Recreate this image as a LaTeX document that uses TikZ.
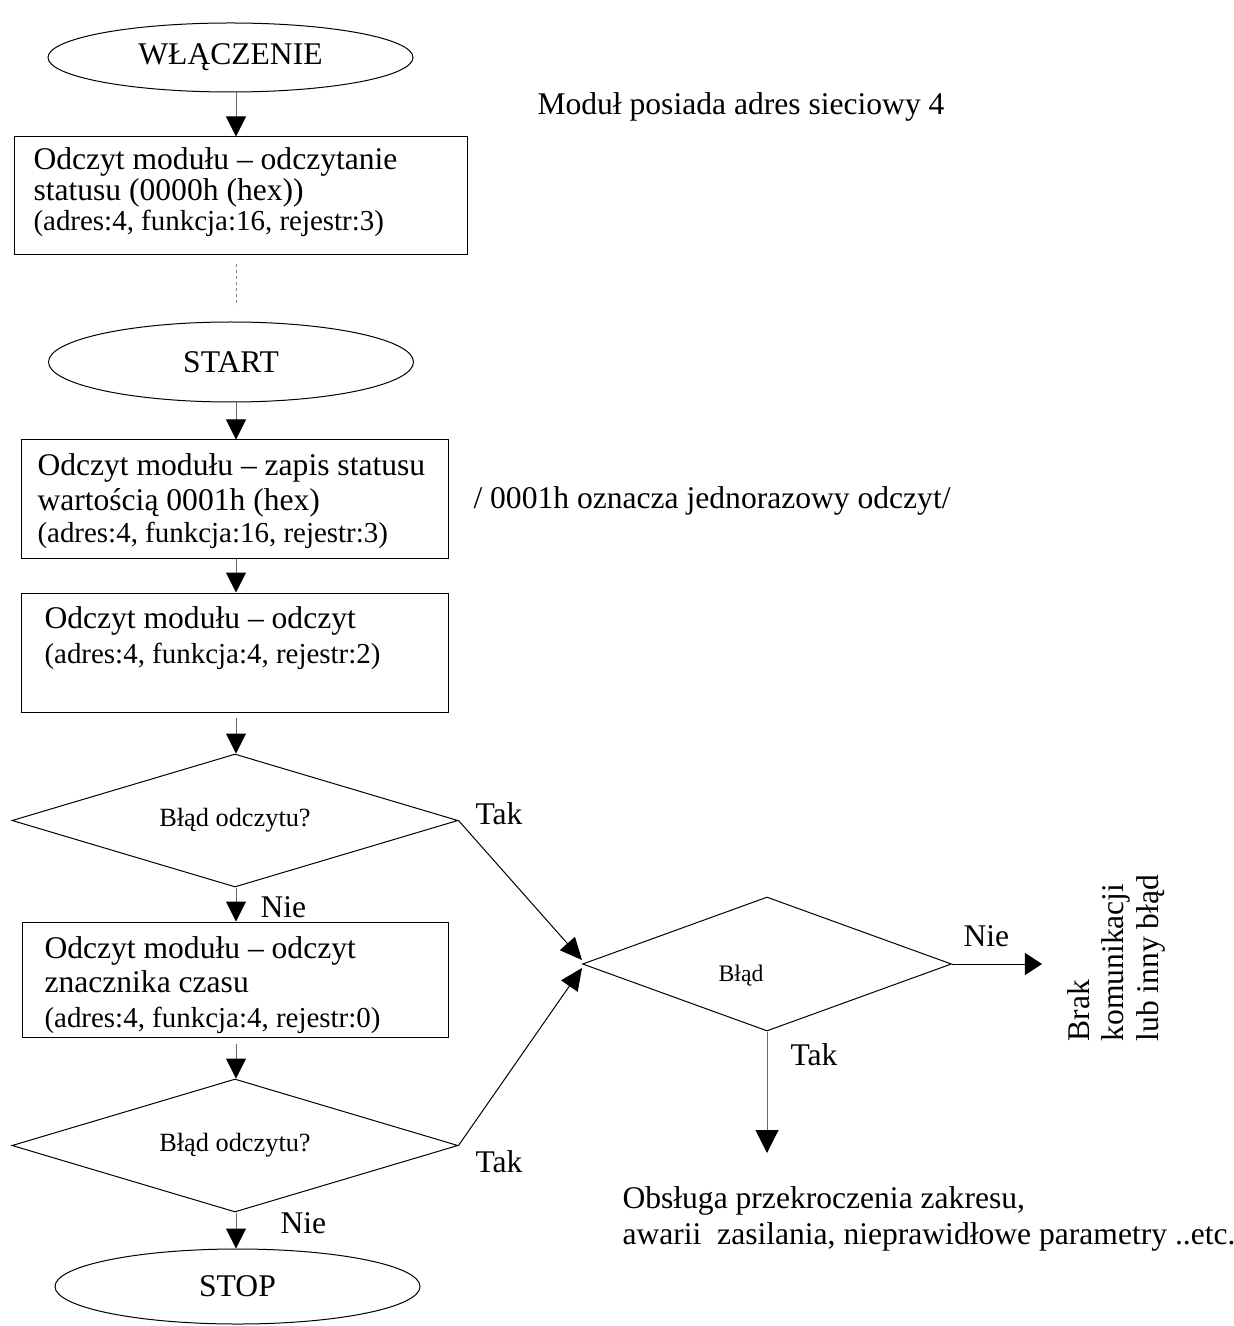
\documentclass[tikz,border=0pt]{standalone}
\usepackage{fontspec}
\setmainfont{Liberation Serif}
\usetikzlibrary{shapes.geometric, arrows.meta}
\newdimen\pixel
\pixel=0.38pt
\newcommand{\duzy}{\fontsize{12pt}{13.1pt}\selectfont}
\newcommand{\sredni}{\fontsize{11pt}{13.1pt}\selectfont}
\newcommand{\maly}{\fontsize{10pt}{12pt}\selectfont}
\newcommand{\malutki}{\fontsize{9pt}{11pt}\selectfont}

\begin{document}
\begin{tikzpicture}[x=\pixel, y=-\pixel,
        linia/.style={line width=1\pixel},
        blok/.style={draw, linia, rectangle, inner sep=0},
        owal/.style={draw, linia, ellipse, inner sep=0, minimum width=365\pixel, font=\duzy},
        romb/.style={draw, linia, diamond, inner sep=0, aspect=3.4, font=\maly},
        opis/.style={anchor=base west, inner sep=0, align=left, font=\duzy},
        etykieta/.style={anchor=base west, inner sep=0, font=\duzy},
        strz/.style={draw=black!60, linia, -{Triangle[width=7.6pt, length=7.6pt, color=black]}},
        skos/.style={draw=black, linia, -{Triangle[width=7.6pt, length=8.4pt]}},
        kreski/.style={draw=black!50, linia, dash pattern=on 3\pixel off 3\pixel},
    ]
    \useasboundingbox (0,0) rectangle (1234,1326);
    \coordinate (os) at (236,0);

    % glowna sciezka (opisy wieloliniowe zaczepione w ostatniej linii)
    \node[owal, minimum height=69\pixel] (wlacz) at (230.5,57.5) {WŁĄCZENIE};
    \node[blok, minimum width=453\pixel, minimum height=118\pixel] (odczyt1) at (240.5,196) {};
    \node[opis] (odczyt1 opis) at (33,231) {Odczyt modułu -- odczytanie\\[-3.5\pixel]statusu (0000h (hex))\\[-3.5\pixel]{\sredni (adres:4, funkcja:16, rejestr:3)}};

    \node[owal, minimum height=80\pixel] (start) at (231,362) {START};
    \node[blok, minimum width=427\pixel, minimum height=118\pixel] (odczyt2) at (234.5,499) {};
    \node[opis] (odczyt2 opis) at (37,543) {Odczyt modułu -- zapis statusu\\wartością 0001h (hex)\\[-1.5\pixel]{\sredni (adres:4, funkcja:16, rejestr:3)}};
    \node[blok, minimum width=427\pixel, minimum height=119\pixel] (odczyt3) at (234.5,652.5) {};
    \node[opis] (odczyt3 opis) at (44,663) {Odczyt modułu -- odczyt\\{\sredni (adres:4, funkcja:4, rejestr:2)}};

    \node[romb, minimum width=446\pixel, minimum height=133\pixel] (blad1) at (235,820.5) {Błąd odczytu?};
    \node[blok, minimum width=426\pixel, minimum height=115\pixel] (odczyt4) at (235,979.5) {};
    \node[opis] (odczyt4 opis) at (44,1027) {Odczyt modułu -- odczyt\\znacznika czasu\\{\sredni (adres:4, funkcja:4, rejestr:0)}};
    \node[romb, minimum width=446\pixel, minimum height=133\pixel] (blad2) at (235,1145.5) {Błąd odczytu?};
    \node[owal, minimum height=75\pixel] (stop) at (237.5,1286.5) {STOP};

    % obsluga bledu
    \node[romb, minimum width=369\pixel, minimum height=134\pixel] (blad) at (767,964) {};
    \node[anchor=base, inner sep=0, font=\malutki] (blad opis) at (741,981) {Błąd};
    \coordinate (brak) at (1042,964);
    \coordinate (obsluga) at (767,1153);
    \node[opis, rotate=90] (brak opis) at (1158,1042) {Brak\\komunikacji\\lub inny błąd};
    \node[opis] (obsluga opis) at (622,1244) {Obsługa przekroczenia zakresu,\\[1.5\pixel]awarii~ zasilania, nieprawidłowe parametry ..etc.};

    % etykiety
    \node[etykieta] (nie1) at (260,917) {Nie};
    \node[etykieta] (nie2) at (280,1233) {Nie};
    \node[etykieta] (tak1) at (475,824) {Tak};
    \node[etykieta] (tak2) at (475,1172) {Tak};
    \node[etykieta] (nie3) at (963,946) {Nie};
    \node[etykieta] (tak3) at (790,1065) {Tak};
    \node[etykieta] (adres) at (537,115) {Moduł posiada adres sieciowy 4};
    \node[etykieta] (uwaga) at (473,508) {/ 0001h oznacza jednorazowy odczyt/};

    % strzalki
    \draw[strz] (wlacz.south -| os) -- (odczyt1.north -| os);
    \draw[kreski, shorten <=9\pixel, shorten >=15\pixel] (odczyt1.south -| os) -- (start.north -| os);
    \draw[strz] (start.south -| os) -- (odczyt2.north -| os);
    \draw[strz] (odczyt2.south -| os) -- (odczyt3.north -| os);
    \draw[strz, shorten <=5\pixel] (odczyt3.south -| os) -- (blad1.north -| os);
    \draw[strz] (blad1.south -| os) -- (odczyt4.north -| os);
    \draw[strz, shorten <=6\pixel] (odczyt4.south -| os) -- (blad2.north -| os);
    \draw[strz] (blad2.south -| os) -- (stop.north -| os);
    \draw[skos] (blad1.east) -- ([yshift=1.5pt]blad.west);
    \draw[skos] (blad2.east) -- ([yshift=-1.5pt]blad.west);
    \draw[skos, -{Triangle[width=8.4pt, length=6.5pt]}] (blad.east) -- (brak);
    \draw[strz, -{Triangle[width=8.7pt, length=8.7pt, color=black]}] (blad.south) -- (obsluga);
\end{tikzpicture}
\end{document}
